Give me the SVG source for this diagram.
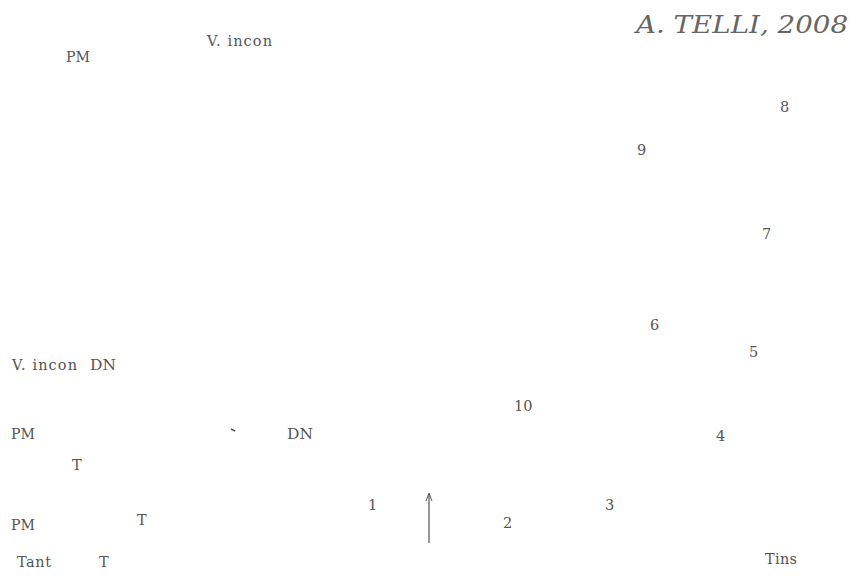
<svg xmlns="http://www.w3.org/2000/svg" width="853" height="579" viewBox="0 0 853 579">
<defs>
<style>
text{font-family:"DejaVu Serif","Liberation Serif",serif;font-size:14.5px;fill:#555}
.sig{font-family:"DejaVu Serif","Liberation Serif",serif;font-size:24px;font-style:italic;fill:#666}
</style>
</defs>
<rect width="853" height="579" fill="#fff"/>
<g id="signature"><text class="sig" x="636" y="33" textLength="212" lengthAdjust="spacingAndGlyphs">A. TELLI, 2008</text></g>
<g id="pm-top"><text x="66" y="62" textLength="24" lengthAdjust="spacingAndGlyphs">PM</text></g>
<g id="vincon-top"><text x="207" y="46" textLength="65">V. incon</text></g>
<g id="n8"><text x="780" y="112">8</text></g>
<g id="n9"><text x="637" y="155">9</text></g>
<g id="n7"><text x="762" y="239">7</text></g>
<g id="n6"><text x="650" y="330">6</text></g>
<g id="n5"><text x="749" y="357">5</text></g>
<g id="vincon-mid"><text x="12" y="370" textLength="65">V. incon</text></g>
<g id="dn-mid"><text x="90" y="370" textLength="26" lengthAdjust="spacingAndGlyphs">DN</text></g>
<g id="n10"><text x="514" y="411">10</text></g>
<g id="pm-mid"><text x="11" y="439" textLength="24" lengthAdjust="spacingAndGlyphs">PM</text></g>
<g id="dot"><path d="M231,429 L235,431" stroke="#555" stroke-width="1.5"/></g>
<g id="dn-right"><text x="287" y="439" textLength="26" lengthAdjust="spacingAndGlyphs">DN</text></g>
<g id="n4"><text x="716" y="441">4</text></g>
<g id="t1"><text x="72" y="470">T</text></g>
<g id="n1"><text x="368" y="510">1</text></g>
<g id="n2"><text x="503" y="528">2</text></g>
<g id="n3"><text x="605" y="510">3</text></g>
<g id="pm-low"><text x="11" y="530" textLength="24" lengthAdjust="spacingAndGlyphs">PM</text></g>
<g id="t2"><text x="137" y="525">T</text></g>
<g id="tant"><text x="17" y="567" textLength="34">Tant</text></g>
<g id="t3"><text x="99" y="567">T</text></g>
<g id="tins"><text x="765" y="564" textLength="32">Tins</text></g>
<g id="connectors">
<line x1="429" y1="543" x2="429" y2="495" stroke="#555" stroke-width="1.2"/>
<path d="M426,501 L429,493 L432,501" fill="none" stroke="#555" stroke-width="1"/>
</g>
</svg>
